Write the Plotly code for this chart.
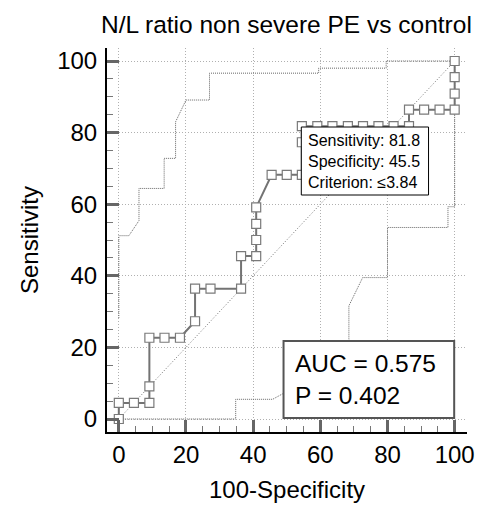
import plotly.graph_objects as go

# ROC curve (100-Specificity, Sensitivity)
roc_x = [0, 0, 4.5, 9.1, 9.1, 9.1, 13.6, 18.2, 22.7, 22.7, 27.3, 36.4, 36.4, 40.9, 40.9, 40.9, 40.9,
         45.5, 50, 54.5, 54.5, 54.5, 59.1, 63.6, 68.2, 72.7, 77.3, 81.8, 86.4, 86.4, 90.9, 95.5,
         100, 100, 100, 100]
roc_y = [0, 4.5, 4.5, 4.5, 9.1, 22.7, 22.7, 22.7, 27.3, 36.4, 36.4, 36.4, 45.5, 45.5, 50, 54.5, 59.1,
         68.2, 68.2, 68.2, 77.3, 81.8, 81.8, 81.8, 81.8, 81.8, 81.8, 81.8, 81.8, 86.4, 86.4, 86.4,
         86.4, 90.9, 95.5, 100]

# Upper confidence band
up_x = [0, 0, 3.0, 6.0, 6.0, 13.5, 13.5, 16.9, 16.9, 20.0, 27.0, 27.0, 59.5, 59.5, 79.6, 79.6, 100]
up_y = [28.2, 51.2, 51.2, 55.4, 64.4, 64.4, 72.8, 72.8, 83.0, 89.1, 89.1, 96.6, 96.6, 98.0, 98.0, 100, 100]

# Lower confidence band
lo_x = [0, 34.8, 34.8, 45.8, 48.7, 55.0, 63.0, 68.5, 68.5, 72.6, 80.0, 80.0, 98.0, 98.0, 100, 100]
lo_y = [0, 0, 5.5, 5.5, 7.0, 9.0, 15.0, 22.1, 31.6, 39.5, 39.5, 53.5, 53.5, 59.3, 59.3, 100]

diag = [0, 100]

title_text = "N/L ratio non severe PE vs control"
x_title = "100-Specificity"
y_title = "Sensitivity"
crit_text = "Sensitivity: 81.8<br>Specificity: 45.5<br>Criterion: \u22643.84"
auc_text = "AUC = 0.575<br>P = 0.402"
tick_vals = [0, 20, 40, 60, 80, 100]

FONT = "Liberation Sans, Arial, sans-serif"

# pixel -> data helpers for annotation placement
def px_x(p):
    return (p - 119) / 3.405

def px_y(p):
    return (419 - p) / 3.58

fig = go.Figure()
fig.add_trace(go.Scatter(x=diag, y=diag, mode="lines",
                         line=dict(color="#707070", width=1, dash="1px,2px"), hoverinfo="skip"))
fig.add_trace(go.Scatter(x=up_x, y=up_y, mode="lines",
                         line=dict(color="#666666", width=1, dash="1px,1px"), hoverinfo="skip"))
fig.add_trace(go.Scatter(x=lo_x, y=lo_y, mode="lines",
                         line=dict(color="#666666", width=1, dash="1px,1px"), hoverinfo="skip"))
fig.add_trace(go.Scatter(x=roc_x, y=roc_y, mode="lines+markers",
                         line=dict(color="#737373", width=2),
                         marker=dict(symbol="square", size=9, color="white",
                                     line=dict(color="#7a7a7a", width=1.2))))

axis_common = dict(
    tickvals=tick_vals, ticks="inside", ticklen=12, tickwidth=3, tickcolor="#666666",
    showline=True, linecolor="black", linewidth=2, mirror=False,
    showgrid=True, gridcolor="#b0b0b0", gridwidth=1, griddash="1px,2px",
    zeroline=False, tickfont=dict(family=FONT, size=24, color="black"),
    minor=dict(dtick=5, ticks="inside", ticklen=6, tickwidth=1, tickcolor="#777777", showgrid=False),
)
fig.update_xaxes(range=[-3.52, 103.67], ticklabelstandoff=0, **axis_common)
fig.update_yaxes(range=[-3.63, 103.63], ticklabelstandoff=3, **axis_common)

fig.update_layout(
    width=487, height=505, margin=dict(l=107, r=15, t=48, b=73),
    plot_bgcolor="white", paper_bgcolor="white", showlegend=False,
    font=dict(family=FONT, color="black"),
)

# boxes
fig.add_shape(type="rect", xref="x", yref="y", x0=px_x(304), x1=px_x(433), y0=px_y(195), y1=px_y(127),
              fillcolor="white", line=dict(color="black", width=1), layer="above")
fig.add_shape(type="rect", xref="x", yref="y", x0=px_x(286), x1=px_x(459), y0=px_y(418), y1=px_y(341),
              fillcolor="white", line=dict(color="#555555", width=2), layer="above")

fig.add_annotation(x=px_x(309), y=px_y(161), xref="x", yref="y", text=crit_text, showarrow=False,
                   xanchor="left", yanchor="middle", align="left",
                   font=dict(family=FONT, size=16, color="black"))
fig.add_annotation(x=px_x(296), y=px_y(379), xref="x", yref="y", text=auc_text, showarrow=False,
                   xanchor="left", yanchor="middle", align="left",
                   font=dict(family=FONT, size=24.5, color="black"))

# titles
fig.add_annotation(x=50, y=1, xref="x", yref="paper", yshift=24, text=title_text, showarrow=False,
                   xanchor="center", yanchor="middle", font=dict(family=FONT, size=24.5, color="black"))
fig.add_annotation(x=50, y=0, xref="x", yref="paper", yshift=-57, text=x_title, showarrow=False,
                   xanchor="center", yanchor="middle", font=dict(family=FONT, size=24, color="black"))
fig.add_annotation(x=0, y=50, xref="paper", yref="y", xshift=-78, text=y_title, showarrow=False,
                   textangle=-90, xanchor="center", yanchor="middle",
                   font=dict(family=FONT, size=24, color="black"))

fig.write_html("out.html", config={"displayModeBar": False, "staticPlot": True},
               post_script="document.body.style.margin='0px';")
